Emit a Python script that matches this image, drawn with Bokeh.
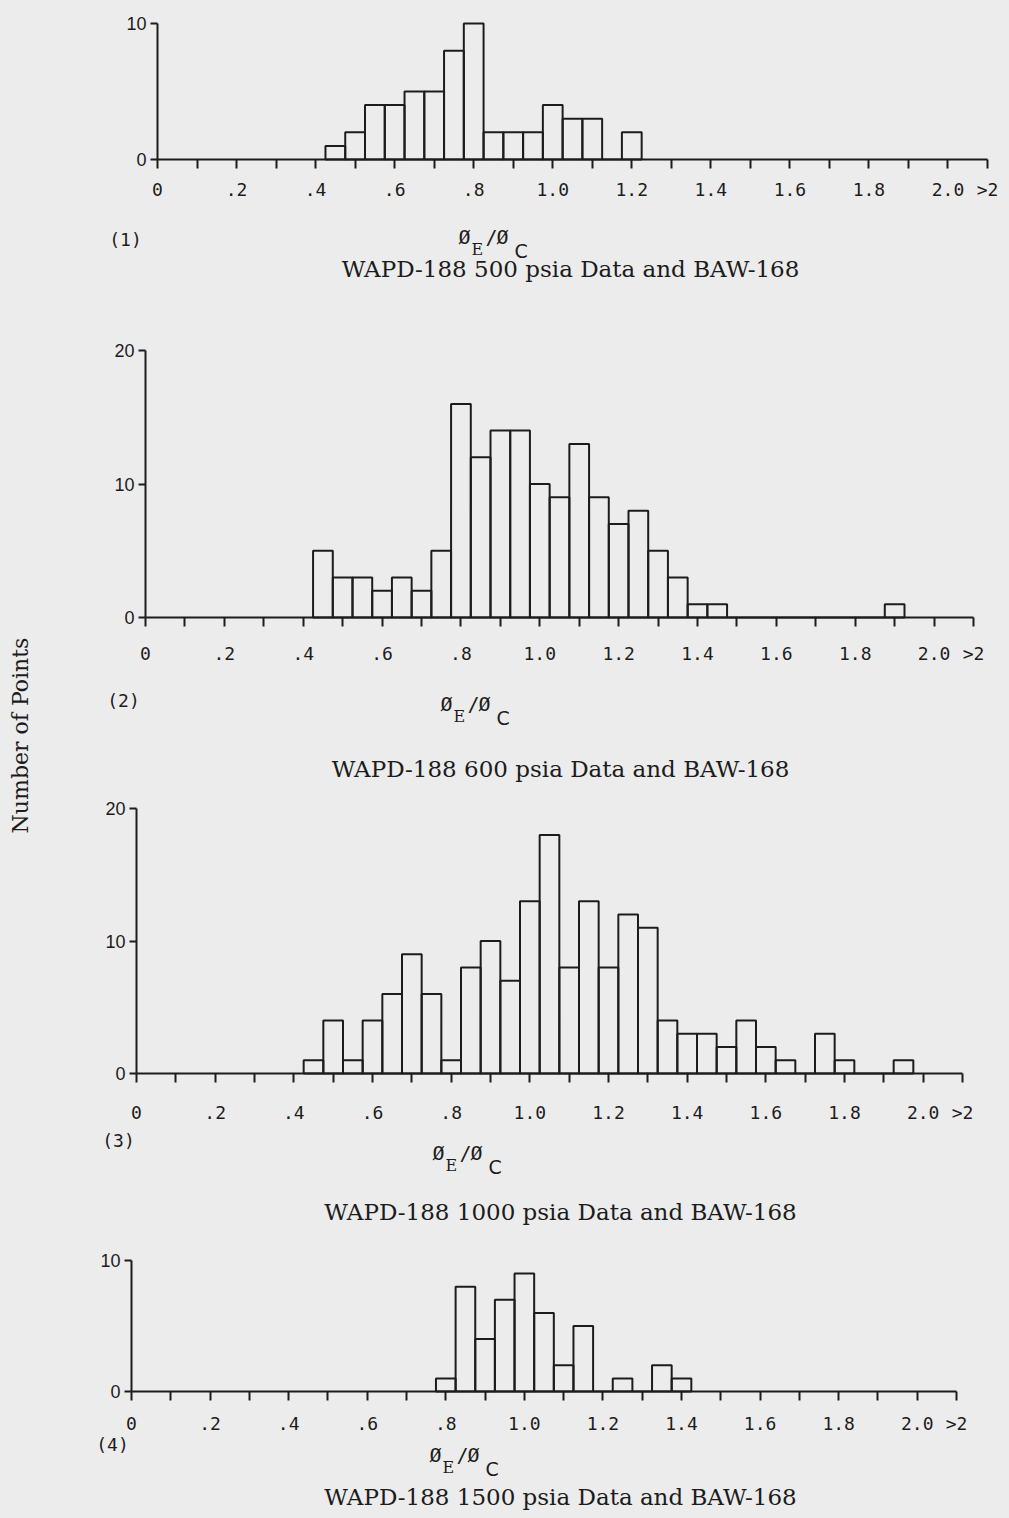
import numpy as np
from bokeh.plotting import figure
from bokeh.models import Label, FixedTicker, Range1d
from bokeh.layouts import row, column
from bokeh.embed import file_html
from bokeh.resources import INLINE

# ---------------- data ----------------
bins_500 = [0.45, 0.50, 0.55, 0.60, 0.65, 0.70, 0.75, 0.80, 0.85, 0.90, 0.95,
            1.00, 1.05, 1.10, 1.15, 1.20]
counts_500 = [1, 2, 4, 4, 5, 5, 8, 10, 2, 2, 2, 4, 3, 3, 0, 2]

bins_600 = [0.45, 0.50, 0.55, 0.60, 0.65, 0.70, 0.75, 0.80, 0.85, 0.90, 0.95,
            1.00, 1.05, 1.10, 1.15, 1.20, 1.25, 1.30, 1.35, 1.40, 1.45,
            1.50, 1.55, 1.60, 1.65, 1.70, 1.75, 1.80, 1.85, 1.90]
counts_600 = [5, 3, 3, 2, 3, 2, 5, 16, 12, 14, 14, 10, 9, 13, 9, 7, 8, 5, 3, 1, 1,
              0, 0, 0, 0, 0, 0, 0, 0, 1]

bins_1000 = [0.45, 0.50, 0.55, 0.60, 0.65, 0.70, 0.75, 0.80, 0.85, 0.90, 0.95,
             1.00, 1.05, 1.10, 1.15, 1.20, 1.25, 1.30, 1.35, 1.40, 1.45,
             1.50, 1.55, 1.60, 1.65, 1.70, 1.75, 1.80, 1.85, 1.90, 1.95]
counts_1000 = [1, 4, 1, 4, 6, 9, 6, 1, 8, 10, 7, 13, 18, 8, 13, 8, 12, 11, 4, 3, 3,
               2, 4, 2, 1, 0, 3, 1, 0, 0, 1]

bins_1500 = [0.80, 0.85, 0.90, 0.95, 1.00, 1.05, 1.10, 1.15, 1.20, 1.25, 1.30, 1.35, 1.40]
counts_1500 = [1, 8, 4, 7, 9, 6, 2, 5, 0, 1, 0, 2, 1]

bin_width = 0.05

x_tick_values = [0.0, 0.1, 0.2, 0.3, 0.4, 0.5, 0.6, 0.7, 0.8, 0.9, 1.0,
                 1.1, 1.2, 1.3, 1.4, 1.5, 1.6, 1.7, 1.8, 1.9, 2.0, 2.1]
x_tick_labels = ["0", "", ".2", "", ".4", "", ".6", "", ".8", "", "1.0",
                 "", "1.2", "", "1.4", "", "1.6", "", "1.8", "", "2.0", ">2"]

y_maxes = [10, 20, 20, 10]
y_ticks = [[0, 10], [0, 10, 20], [0, 10, 20], [0, 10]]

panel_tags = ["(1)", "(2)", "(3)", "(4)"]
titles = ["WAPD-188 500 psia Data and BAW-168",
          "WAPD-188 600 psia Data and BAW-168",
          "WAPD-188 1000 psia Data and BAW-168",
          "WAPD-188 1500 psia Data and BAW-168"]
y_label = "Number of Points"

series = [(bins_500, counts_500), (bins_600, counts_600),
          (bins_1000, counts_1000), (bins_1500, counts_1500)]

# ---------------- layout (screen pixels) ----------------
BG = "#ececec"
INK = "#1c1c1c"
LEFT_W = 40
PANEL_W = 960
PX_L = LEFT_W                 # screen x of panel figures' left edge
PX_R = LEFT_W + PANEL_W
TOTAL_H = 1510
X_END = 2.1

# FL/FR: screen x of data 0 and 2.1; FT/FB: screen y of ymax and 0
geom = [
    dict(top=0, bottom=300, FL=157, FR=987, FT=23, FB=159, standoff=10,
         tag=(125, 239), phi=(458, 236), title=(570, 268)),
    dict(top=300, bottom=788, FL=145, FR=973, FT=350, FB=617, standoff=16,
         tag=(123, 700), phi=(440, 703), title=(560, 768)),
    dict(top=788, bottom=1232, FL=136, FR=962, FT=808, FB=1073, standoff=19,
         tag=(118, 1140), phi=(432, 1152), title=(560, 1211)),
    dict(top=1232, bottom=TOTAL_H, FL=131, FR=956, FT=1260, FB=1391, standoff=12,
         tag=(112, 1444), phi=(429, 1454), title=(560, 1496)),
]


def style_blank(p):
    p.background_fill_color = BG
    p.border_fill_color = BG
    p.outline_line_color = None
    p.xgrid.visible = False
    p.ygrid.visible = False


def make_panel(i):
    g = geom[i]
    ymax = y_maxes[i]
    unit = (g["FB"] - g["FT"]) / ymax
    sx = (g["FR"] - g["FL"]) / X_END

    def px2x(px):
        return (px - g["FL"]) / sx

    def py2y(py):
        return (g["FB"] - py) / unit

    p = figure(width=PANEL_W, height=g["bottom"] - g["top"],
               x_range=Range1d(px2x(PX_L), px2x(PX_R)),
               y_range=Range1d(py2y(g["bottom"]), py2y(g["top"])),
               min_border=0,
               output_backend="svg", toolbar_location=None)
    style_blank(p)

    bins, counts = series[i]
    left = [b - bin_width / 2 for b in bins]
    right = [b + bin_width / 2 for b in bins]
    p.quad(left=left, right=right, bottom=0, top=counts,
           fill_color=None, line_color=INK, line_width=2)

    xa = p.xaxis[0]
    xa.fixed_location = 0
    xa.ticker = FixedTicker(ticks=x_tick_values, minor_ticks=[])
    xa.major_label_overrides = dict(zip(x_tick_values, x_tick_labels))
    xa.bounds = (0, X_END)
    xa.axis_line_width = 2
    xa.axis_line_color = INK
    xa.major_tick_line_width = 2
    xa.major_tick_line_color = INK
    xa.major_tick_in = 0
    xa.major_tick_out = 9
    xa.minor_tick_out = 0
    xa.major_label_standoff = g["standoff"]
    xa.major_label_text_font = "DejaVu Sans Mono"
    xa.major_label_text_font_size = "18px"
    xa.major_label_text_color = INK

    ya = p.yaxis[0]
    ya.fixed_location = 0
    ya.ticker = FixedTicker(ticks=y_ticks[i], minor_ticks=[])
    ya.bounds = (0, ymax)
    ya.axis_line_width = 2
    ya.axis_line_color = INK
    ya.major_tick_line_width = 2
    ya.major_tick_line_color = INK
    ya.major_tick_in = 0
    ya.major_tick_out = 7
    ya.minor_tick_out = 0
    ya.major_label_standoff = 4
    ya.major_label_text_font = "Liberation Sans"
    ya.major_label_text_font_size = "18px"
    ya.major_label_text_color = INK

    def lab(px, py, text, font, size, align="center"):
        p.add_layout(Label(x=px2x(px), y=py2y(py), text=text,
                           text_align=align, text_baseline="middle",
                           text_font=font, text_font_size=size,
                           text_color=INK))

    tx, ty = g["tag"]
    lab(tx, ty, panel_tags[i], "DejaVu Sans Mono", "18px")
    phx, phy = g["phi"]
    lab(phx, phy, "Ø", "DejaVu Sans Mono", "20px", "left")
    lab(phx + 13, phy + 13, "E", "DejaVu Serif", "16px", "left")
    lab(phx + 27, phy, "/", "DejaVu Sans Mono", "20px", "left")
    lab(phx + 38, phy, "Ø", "DejaVu Sans Mono", "20px", "left")
    lab(phx + 56, phy + 14, "C", "DejaVu Sans", "19px", "left")
    ttx, tty = g["title"]
    lab(ttx, tty, titles[i], "DejaVu Serif", "23px")
    return p


panels = [make_panel(i) for i in range(4)]

pl = figure(width=LEFT_W, height=TOTAL_H,
            x_range=Range1d(0, LEFT_W), y_range=Range1d(TOTAL_H, 0),
            min_border=0, x_axis_location=None, y_axis_location=None,
            output_backend="svg", toolbar_location=None)
style_blank(pl)
pl.add_layout(Label(x=20, y=735, text=y_label,
                    angle=np.pi / 2, text_align="center", text_baseline="middle",
                    text_font="DejaVu Serif", text_font_size="22px",
                    text_color=INK))

layout = row(pl, column(*panels))

html = file_html(layout, INLINE)
html = html.replace("<body>", '<body style="background-color:#ececec;">')
open("out.html", "w").write(html)
